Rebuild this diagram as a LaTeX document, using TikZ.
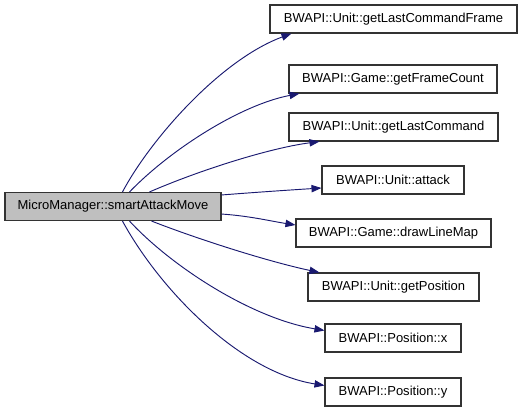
\documentclass[tikz,border=0pt]{standalone}
\usepackage{fontspec}
\setmainfont{Liberation Sans}
\usetikzlibrary{arrows.meta,calc}
\definecolor{edgeblue}{HTML}{191970}
\definecolor{boxgray}{HTML}{BFBFBF}
\tikzset{
  fn/.style={draw=black!80, line width=0.8pt, fill=white, inner sep=0pt, minimum height=21pt, font=\fontsize{9.75pt}{11pt}\selectfont},
  mainfn/.style={fn, fill=boxgray},
  call/.style={draw=edgeblue, line width=0.7pt, -{Triangle[length=7.5pt,width=5.5pt]}},
}
\begin{document}
\begin{tikzpicture}[x=0.75pt,y=-0.75pt]
\useasboundingbox (0,0) rectangle (523,413);
\node[mainfn, minimum width=162pt] (main) at (113,206.5) {MicroManager::smartAttackMove};
\node[fn, minimum width=185.25pt] (n1) at (393.5,19) {BWAPI::Unit::getLastCommandFrame};
\node[fn, minimum width=156pt] (n2) at (393,79) {BWAPI::Game::getFrameCount};
\node[fn, minimum width=156.75pt] (n3) at (393.5,127) {BWAPI::Unit::getLastCommand};
\node[fn, minimum width=106.5pt] (n4) at (393,180) {BWAPI::Unit::attack};
\node[fn, minimum width=146.25pt] (n5) at (393.5,233) {BWAPI::Game::drawLineMap};
\node[fn, minimum width=128.25pt] (n6) at (393.5,287) {BWAPI::Unit::getPosition};
\node[fn, minimum width=102pt] (n7) at (393,338) {BWAPI::Position::x};
\node[fn, minimum width=102pt] (n8) at (393,392) {BWAPI::Position::y};
\draw[call] ($(main.north west)+(118,0)$) .. controls (150,140) and (220,60) .. ($(n1.south west)+(22,0)$);
\draw[call] ($(main.north west)+(125,0)$) .. controls (170,150) and (240,105) .. ($(n2.south west)+(11,0)$);
\draw[call] ($(main.north west)+(145,0)$) .. controls (200,170) and (270,148) .. ($(n3.south west)+(31,0)$);
\draw[call] ($(main.north east)+(0,3)$) .. controls (260,192) and (290,190) .. ($(n4.west)+(0,8)$);
\draw[call] ($(main.south east)+(0,-7)$) .. controls (250,216) and (270,221) .. ($(n5.west)+(0,-8)$);
\draw[call] ($(main.south west)+(147,0)$) .. controls (200,240) and (270,262) .. ($(n6.north west)+(12,0)$);
\draw[call] ($(main.south west)+(125,0)$) .. controls (170,265) and (250,318) .. ($(n7.north west)+(0,7)$);
\draw[call] ($(main.south west)+(118,0)$) .. controls (160,290) and (240,372) .. ($(n8.north west)+(0,8)$);
\end{tikzpicture}
\end{document}
